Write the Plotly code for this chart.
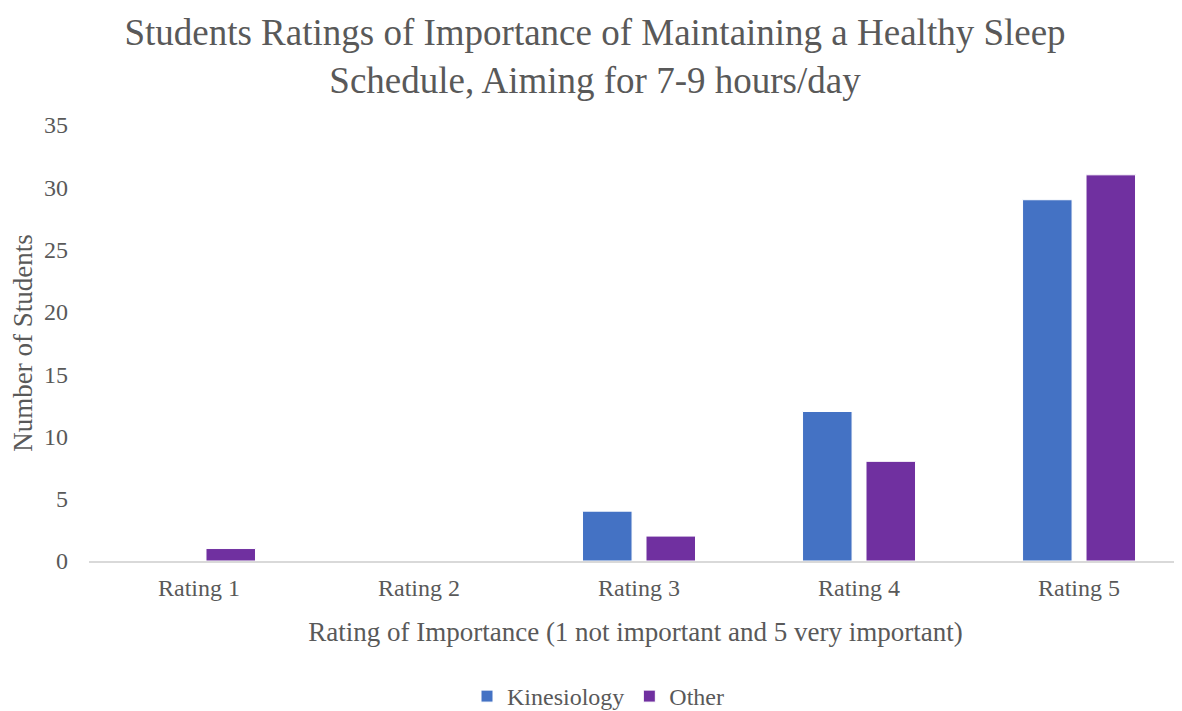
import plotly.graph_objects as go

categories = ["Rating 1", "Rating 2", "Rating 3", "Rating 4", "Rating 5"]
kinesiology = [0, 0, 4, 12, 29]
other = [1, 0, 2, 8, 31]
y_ticks = [0, 5, 10, 15, 20, 25, 30, 35]

FONT = "Liberation Serif"
GREY = "#595959"

fig = go.Figure()
fig.add_trace(go.Bar(name="Kinesiology", x=categories, y=kinesiology,
                     marker=dict(color="#4472C4", line=dict(color="white", width=1))))
fig.add_trace(go.Bar(name="Other", x=categories, y=other,
                     marker=dict(color="#7030A0", line=dict(color="white", width=1))))

fig.update_layout(
    width=1174, height=711,
    margin=dict(l=81, r=0, t=117, b=158),
    paper_bgcolor="white", plot_bgcolor="white",
    font=dict(family=FONT, color=GREY, size=24),
    title=dict(text="Students Ratings of Importance of Maintaining a Healthy Sleep<br>Schedule, Aiming for 7-9 hours/day",
               x=0.5, xanchor="center", xref="container",
               y=1-37/711, yanchor="middle", yref="container",
               font=dict(family=FONT, size=37, color=GREY)),
    barmode="group", bargap=0.423, bargroupgap=0.22,
    showlegend=True,
    legend=dict(orientation="h", x=(598-89)/1093, xanchor="center",
                y=(561-697)/436, yanchor="middle",
                font=dict(family=FONT, size=24, color=GREY),
                itemwidth=30, traceorder="normal"),
    xaxis=dict(range=[-0.5, 4.468], showgrid=False, showline=True, linecolor="#D9D9D9", linewidth=2,
               ticks="", tickfont=dict(size=24, color=GREY), ticklabelstandoff=4,
               title=dict(text="Rating of Importance (1 not important and 5 very important)",
                          font=dict(size=27, color=GREY), standoff=22)),
    yaxis=dict(range=[0, 35], tickvals=y_ticks, showgrid=False, showline=False, zeroline=False,
               ticks="", tickfont=dict(size=24, color=GREY), ticklabelstandoff=20,
               title=dict(text="Number of Students", font=dict(size=27, color=GREY), standoff=4)),
)

fig.write_html("out.html")
